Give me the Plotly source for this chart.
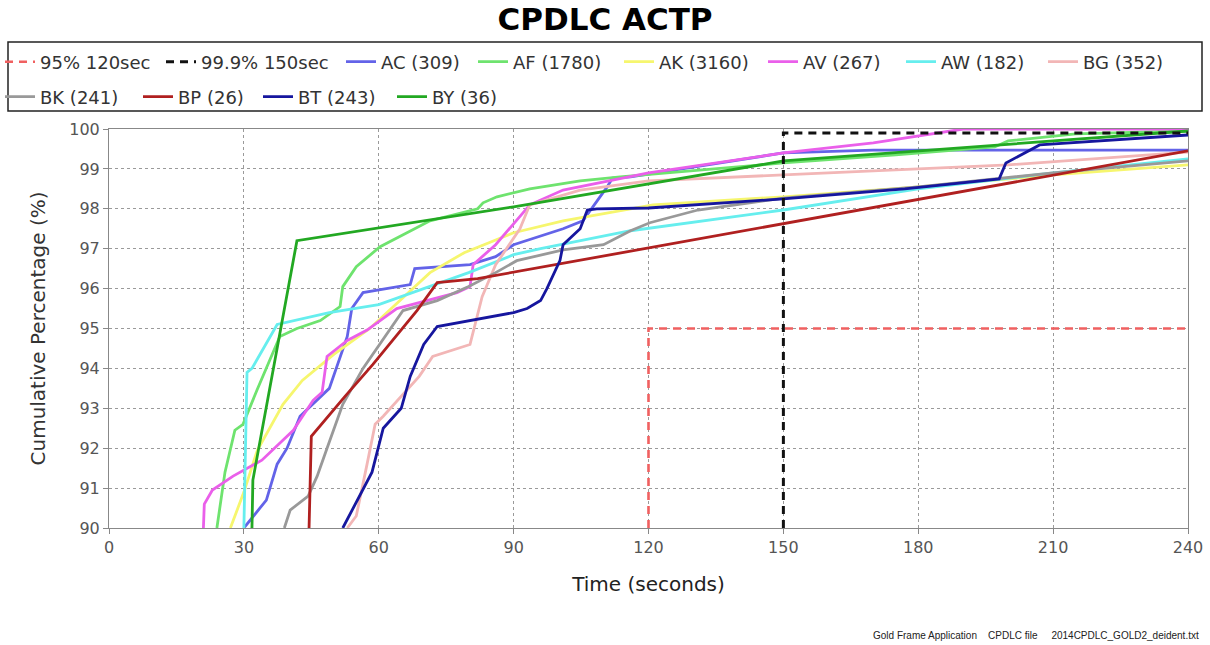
import plotly.graph_objects as go

# ---------------- data ----------------
AC_x = [30, 35, 37.4, 39.6, 42.5, 49, 53, 53.6, 54, 56.5, 67, 68, 80.3, 86, 90, 101, 105.4, 110.8, 112, 116, 130, 150, 170, 240]
AC_y = [90, 90.7, 91.6, 92.0, 92.8, 93.5, 94.8, 95.2, 95.5, 95.9, 96.1, 96.5, 96.6, 96.8, 97.1, 97.5, 97.7, 98.55, 98.77, 98.8, 99.05, 99.4, 99.47, 99.47]

AF_x = [24, 25.8, 28, 29.8, 32.9, 35.8, 38, 41.8, 47, 51.4, 52, 55, 60.3, 71.4, 82, 83.2, 86.3, 93.6, 104.8, 113.7, 150, 175, 197, 200, 215, 240]
AF_y = [90, 91.4, 92.45, 92.6, 93.45, 94.2, 94.8, 95.0, 95.2, 95.55, 96.05, 96.55, 97.05, 97.7, 98.0, 98.15, 98.3, 98.5, 98.7, 98.8, 99.15, 99.35, 99.55, 99.7, 99.88, 99.95]

AK_x = [27, 30, 33, 38.7, 43, 50, 58, 71.4, 79, 90, 101, 106, 121, 150, 180, 210, 240]
AK_y = [90, 90.9, 91.95, 93.1, 93.7, 94.35, 95.0, 96.4, 96.9, 97.4, 97.7, 97.8, 98.1, 98.3, 98.55, 98.85, 99.1]

AV_x = [21, 21.2, 23, 27.6, 34, 41, 45.4, 47.4, 48.5, 53, 57.4, 64, 77.4, 80.3, 81, 86, 93.6, 101, 120, 150, 170, 190, 240]
AV_y = [90, 90.6, 90.95, 91.3, 91.7, 92.45, 93.2, 93.4, 94.3, 94.7, 94.96, 95.5, 95.9, 96.05, 96.6, 97.1, 98.1, 98.47, 98.9, 99.4, 99.65, 100, 100]

AW_x = [30, 30.7, 31.8, 37.4, 49, 60, 80, 90, 96, 116, 150, 180, 210, 240]
AW_y = [90, 93.9, 94.0, 95.1, 95.4, 95.6, 96.4, 96.85, 97.0, 97.45, 97.97, 98.5, 98.9, 99.25]

BG_x = [53, 55, 57.4, 59.2, 61, 69, 72, 80.3, 83, 86, 91.4, 93.6, 104.8, 120, 150, 200, 240]
BG_y = [90, 90.3, 91.6, 92.6, 92.8, 93.8, 94.3, 94.6, 95.8, 96.6, 97.5, 98.1, 98.47, 98.7, 98.85, 99.1, 99.42]

BK_x = [39, 40.3, 44.3, 46.3, 48.5, 52, 56.5, 64, 65.4, 73, 80, 86, 90.7, 101, 110, 116, 120.3, 131, 143, 150, 180, 210, 240]
BK_y = [90, 90.45, 90.8, 91.3, 92.0, 93.1, 94.0, 95.2, 95.45, 95.7, 96.05, 96.4, 96.7, 96.97, 97.1, 97.45, 97.65, 97.97, 98.17, 98.27, 98.55, 98.9, 99.2]

BP_x = [44.5, 45, 52.5, 58.7, 68.5, 73, 82, 240]
BP_y = [90, 92.3, 93.3, 94.1, 95.45, 96.15, 96.25, 99.45]

BT_x = [52, 54.3, 57.4, 58.5, 61, 65, 67, 70, 73, 80.3, 90, 93, 96, 97.4, 100.3, 101, 104.8, 106.4, 108.5, 120, 150, 177, 198, 199.5, 207, 240]
BT_y = [90, 90.5, 91.15, 91.4, 92.5, 93.0, 93.8, 94.6, 95.05, 95.2, 95.4, 95.5, 95.7, 96.0, 96.7, 97.1, 97.5, 97.97, 98.0, 98.02, 98.25, 98.5, 98.75, 99.15, 99.6, 99.85]

BY_x = [31.8, 32, 41.8, 90, 150, 240]
BY_y = [90, 91.2, 97.2, 98.05, 99.2, 99.95]

REQ95_x = [120, 120, 240]
REQ95_y = [90, 95, 95]
REQ999_x = [150, 150, 240]
REQ999_y = [90, 99.9, 99.9]

series_names = ["AC (309)", "AF (1780)", "AK (3160)", "AV (267)", "AW (182)", "BG (352)",
                "BK (241)", "BP (26)", "BT (243)", "BY (36)"]
series_x = [AC_x, AF_x, AK_x, AV_x, AW_x, BG_x, BK_x, BP_x, BT_x, BY_x]
series_y = [AC_y, AF_y, AK_y, AV_y, AW_y, BG_y, BK_y, BP_y, BT_y, BY_y]
series_colors = ["#6363e8", "#6ee36e", "#f6f66e", "#ea5fea", "#66eeee", "#f2b6b6",
                 "#999999", "#b02020", "#16169e", "#22a822"]

x_ticks = [0, 30, 60, 90, 120, 150, 180, 210, 240]
y_ticks = [90, 91, 92, 93, 94, 95, 96, 97, 98, 99, 100]

# ---------------- figure ----------------
FONT = "DejaVu Sans"
fig = go.Figure()

# legend slot positions (line start px, row centre px) as laid out in the reference
legend_slots = {
    "95% 120sec": (8, 62), "99.9% 150sec": (169, 62), "AC (309)": (349, 62),
    "AF (1780)": (481, 62), "AK (3160)": (627, 62), "AV (267)": (771, 62),
    "AW (182)": (909, 62), "BG (352)": (1051, 62),
    "BK (241)": (8, 97), "BP (26)": (146, 97), "BT (243)": (266, 97), "BY (36)": (400, 97),
}
legend_ids = {}
layout_legends = {}
for k, (name, (lx, ly)) in enumerate(legend_slots.items()):
    lid = "legend" if k == 0 else f"legend{k + 1}"
    legend_ids[name] = lid
    layout_legends[lid] = dict(
        orientation="h", xref="container", yref="container",
        x=(lx - 8) / 1210, y=1 - ly / 645, xanchor="left", yanchor="middle",
        font=dict(family=FONT, size=18, color="#333333"),
        bgcolor="rgba(0,0,0,0)", borderwidth=0, itemwidth=30)

for i, (name, xs, ys, col) in enumerate(zip(series_names, series_x, series_y, series_colors)):
    fig.add_trace(go.Scatter(
        x=xs, y=ys, mode="lines", name=name,
        line=dict(color=col, width=2.8),
        legend=legend_ids[name],
    ))

fig.add_trace(go.Scatter(x=REQ95_x, y=REQ95_y, mode="lines", name="95% 120sec",
                         line=dict(color="#f06060", width=2.6, dash="8px,6px"),
                         legend=legend_ids["95% 120sec"]))
fig.add_trace(go.Scatter(x=REQ999_x, y=REQ999_y, mode="lines", name="99.9% 150sec",
                         line=dict(color="#111111", width=3, dash="8px,6px"),
                         legend=legend_ids["99.9% 150sec"]))

grid = dict(showgrid=True, gridcolor="#9a9a9a", gridwidth=1, griddash="3px,3px")

fig.update_layout(
    width=1210, height=645,
    margin=dict(l=109, r=22, t=129, b=117, autoexpand=False),
    paper_bgcolor="white", plot_bgcolor="white",
    font=dict(family=FONT, color="#333333"),
    title=dict(text="<b>CPDLC ACTP</b>", x=0.5, xref="container", xanchor="center",
               y=1 - 19 / 645, yref="container", yanchor="middle",
               font=dict(family=FONT, size=31, color="#000000")),
    xaxis=dict(range=[0, 240], tickvals=x_ticks, ticks="outside", ticklen=5,
               tickcolor="#888888", showline=True, linecolor="#888888", linewidth=1,
               mirror=True, zeroline=False, tickfont=dict(size=16, color="#555555"),
               title=dict(text="Time (seconds)", font=dict(size=20, color="#222222"),
                          standoff=20),
               **grid),
    yaxis=dict(range=[90, 100], tickvals=y_ticks, ticks="outside", ticklen=5,
               tickcolor="#888888", showline=True, linecolor="#888888", linewidth=1,
               mirror=True, zeroline=False, tickfont=dict(size=16, color="#555555"),
               title=dict(text="Cumulative Percentage (%)", font=dict(size=20, color="#333333"),
                          standoff=18),
               **grid),
    showlegend=True,
    **layout_legends,
)

# legend frame (spans the full width as in the reference)
fig.add_shape(type="rect", xref="paper", yref="paper",
              x0=(8 - 109) / 1079, x1=(1202 - 109) / 1079,
              y0=(528 - 111) / 399, y1=(528 - 42) / 399,
              line=dict(color="#222222", width=1.5), fillcolor="rgba(0,0,0,0)", layer="below")

fig.add_annotation(text="Gold Frame Application&nbsp;&nbsp;&nbsp; CPDLC file&nbsp;&nbsp;&nbsp;&nbsp; 2014CPDLC_GOLD2_deident.txt",
                   xref="paper", yref="paper", x=(1201 - 109) / 1079, y=(528 - 635) / 399,
                   xanchor="right", yanchor="middle", showarrow=False,
                   font=dict(family="Liberation Sans", size=10, color="#222222"))

fig.write_html("out.html")
